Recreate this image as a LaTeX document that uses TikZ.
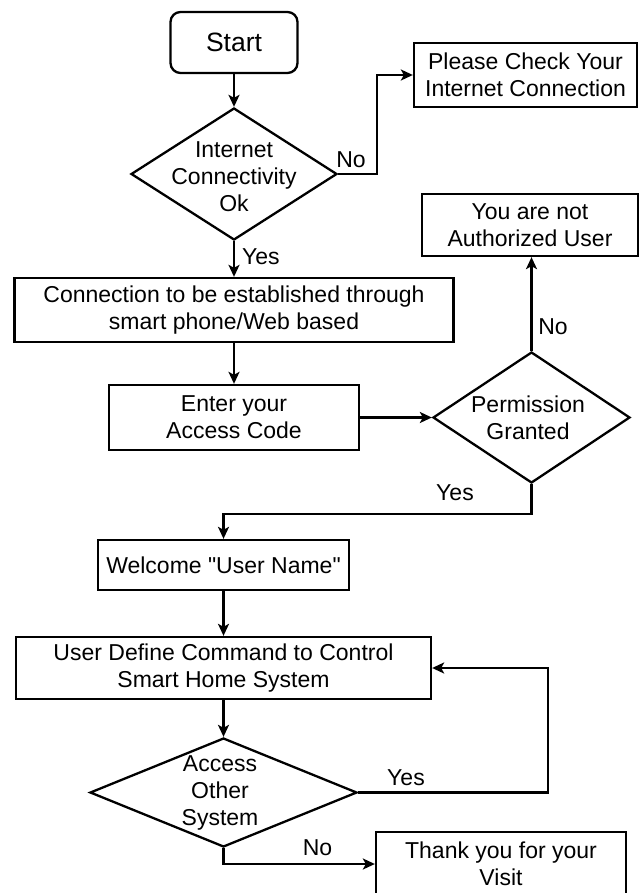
\documentclass[tikz,border=0pt]{standalone}
\usepackage{fontspec}
\setmainfont{Liberation Sans}[Ligatures=TeXOff]
\usetikzlibrary{arrows.meta,shapes.geometric}
\begin{document}
\begin{tikzpicture}[x=1pt,y=-1pt,
  every node/.style={font=\fontsize{23}{27}\selectfont, align=center, inner sep=0pt, text=black},
  boxnode/.style={draw=black, line width=2.3pt, rectangle},
  dnode/.style={draw=black, line width=2.3pt, diamond},
  conn/.style={draw=black, line width=2.3pt, -{Stealth[length=12pt,width=11pt,inset=3pt]}}]
\useasboundingbox[fill=white] (0,0) rectangle (640,893);
% nodes
\node[boxnode, rounded corners=10pt, minimum width=127pt, minimum height=61pt, font=\fontsize{26.5}{30}\selectfont] (start) at (234,42.5) {Start};
\node[dnode, minimum width=206pt, minimum height=132pt] (d1) at (234,174) {};
\node (d1t) at (234,177) {Internet\\Connectivity\\Ok};
\node[boxnode, minimum width=223pt, minimum height=64pt] (please) at (525.5,75) {Please Check Your\\Internet Connection};
\node[boxnode, minimum width=216pt, minimum height=62pt] (notauth) at (530,225) {You are not\\Authorized User};
\node[boxnode, minimum width=439pt, minimum height=64pt] (conn) at (234,310) {Connection to be established through\\smart phone/Web based};
\node[boxnode, minimum width=250pt, minimum height=65pt] (enter) at (234,417.5) {Enter your\\Access Code};
\node[dnode, minimum width=197pt, minimum height=131pt] (perm) at (531.5,417.5) {};
\node (permt) at (528,417.5) {Permission\\Granted};
\node[boxnode, minimum width=251pt, minimum height=50pt] (welcome) at (223.5,565) {Welcome "User Name"};
\node[boxnode, minimum width=415pt, minimum height=62pt] (user) at (223.5,668) {User Define Command to Control\\Smart Home System};
\node[dnode, minimum width=267pt, minimum height=109pt] (access) at (223.5,792.5) {};
\node (accesst) at (220,793) {Access\\Other\\System};
\node[boxnode, minimum width=250pt, minimum height=64pt] (thanks) at (501,864) {Thank you for your\\Visit};
\coordinate (loop) at (548,0);
% connectors
\draw[conn] (start.south) -- (d1.north);
\draw[conn] (d1.east) -- ++(39,0) |- (please.west);
\draw[conn] (d1.south) -- (conn.north);
\draw[conn] (conn.south) -- (enter.north);
\draw[conn] (enter.east) -- (perm.west);
\draw[conn] (perm.north) -- (perm.north |- notauth.south);
\draw[conn] (perm.south) -- ++(0,30) -| (welcome.north);
\draw[conn] (welcome.south) -- (user.north);
\draw[conn] (user.south) -- (access.north);
\draw[conn] (access.east) -- (access.east -| loop) -- (user.east -| loop) -- (user.east);
\draw[conn] (access.south) |- (thanks.west);
% labels
\node (lno1) at (351,160) {No};
\node[anchor=west] (lyes1) at (242,257) {Yes};
\node (lno2) at (553,327) {No};
\node (lyes2) at (455,493) {Yes};
\node (lyes3) at (406,778) {Yes};
\node (lno3) at (317.5,848) {No};
\end{tikzpicture}
\end{document}
